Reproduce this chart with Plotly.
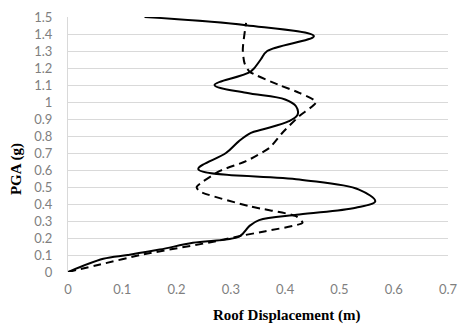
import plotly.graph_objects as go

# Solid series
solid_x = [0, 0.065, 0.11, 0.169, 0.23, 0.316, 0.334, 0.352, 0.426, 0.53, 0.566, 0.536,
           0.426, 0.24, 0.291, 0.315, 0.337, 0.358, 0.407, 0.423, 0.42, 0.40,
           0.328, 0.27, 0.337, 0.355, 0.367, 0.453, 0.328, 0.141]
solid_y = [0, 0.078, 0.10, 0.132, 0.172, 0.21, 0.27, 0.305, 0.338, 0.378, 0.416, 0.485,
           0.544, 0.605, 0.70, 0.77, 0.818, 0.838, 0.887, 0.926, 0.975, 1.015,
           1.054, 1.10, 1.18, 1.25, 1.30, 1.387, 1.452, 1.5]

# Dashed series
dash_x = [0, 0.059, 0.138, 0.273, 0.322, 0.364, 0.432, 0.42, 0.334, 0.242, 0.237,
          0.279, 0.328, 0.371, 0.395, 0.426, 0.457, 0.426, 0.389, 0.334, 0.325, 0.322, 0.328]
dash_y = [0, 0.044, 0.103, 0.181, 0.215, 0.24, 0.29, 0.328, 0.387, 0.475, 0.50,
          0.593, 0.652, 0.73, 0.819, 0.917, 1.0, 1.054, 1.10, 1.18, 1.23, 1.309, 1.466]

x_ticks = [0, 0.1, 0.2, 0.3, 0.4, 0.5, 0.6, 0.7]
x_labels = ["0", "0.1", "0.2", "0.3", "0.4", "0.5", "0.6", "0.7"]
y_ticks = [round(0.1 * i, 1) for i in range(16)]
y_labels = ["0", "0.1", "0.2", "0.3", "0.4", "0.5", "0.6", "0.7", "0.8", "0.9",
            "1", "1.1", "1.2", "1.3", "1.4", "1.5"]

fig = go.Figure()
fig.add_trace(go.Scatter(x=dash_x, y=dash_y, mode="lines",
                         line=dict(color="black", width=2, dash="8px,5px",
                                   shape="spline", smoothing=0.6),
                         showlegend=False, hoverinfo="skip"))
fig.add_trace(go.Scatter(x=solid_x, y=solid_y, mode="lines",
                         line=dict(color="black", width=2,
                                   shape="spline", smoothing=1.0),
                         showlegend=False, hoverinfo="skip"))

tickfont = dict(family="Lato, Liberation Sans, sans-serif", size=13, color="#7f7f7f")

fig.update_layout(
    width=460, height=325,
    margin=dict(l=68, r=12, t=17, b=53, autoexpand=False),
    paper_bgcolor="white", plot_bgcolor="white",
    xaxis=dict(range=[0, 0.7], tickvals=x_ticks, ticktext=x_labels,
               showgrid=False, zeroline=False, showline=False, automargin=False,
               tickfont=tickfont, ticks="", ticklabelstandoff=8, fixedrange=True),
    yaxis=dict(range=[0, 1.5], tickvals=y_ticks, ticktext=y_labels,
               showgrid=True, gridcolor="#d9d9d9", gridwidth=1, automargin=False,
               zeroline=False, showline=True, linecolor="#d9d9d9", linewidth=1,
               tickfont=tickfont, ticks="", ticklabelstandoff=12, fixedrange=True),
    annotations=[
        dict(text="<b>PGA (g)</b>", xref="paper", yref="paper", x=-0.134, y=0.404,
             textangle=-90, showarrow=False, xanchor="center", yanchor="middle",
             font=dict(family="Liberation Serif, Times New Roman, serif", size=15, color="black")),
        dict(text="<b>Roof Displacement (m)</b>", xref="paper", yref="paper", x=0.574, y=-0.169,
             showarrow=False, xanchor="center", yanchor="middle",
             font=dict(family="Liberation Serif, Times New Roman, serif", size=15, color="black")),
    ],
)

fig.write_html("out.html", config={"displayModeBar": False},
               post_script="document.body.style.margin='0';document.body.style.overflow='hidden';")
